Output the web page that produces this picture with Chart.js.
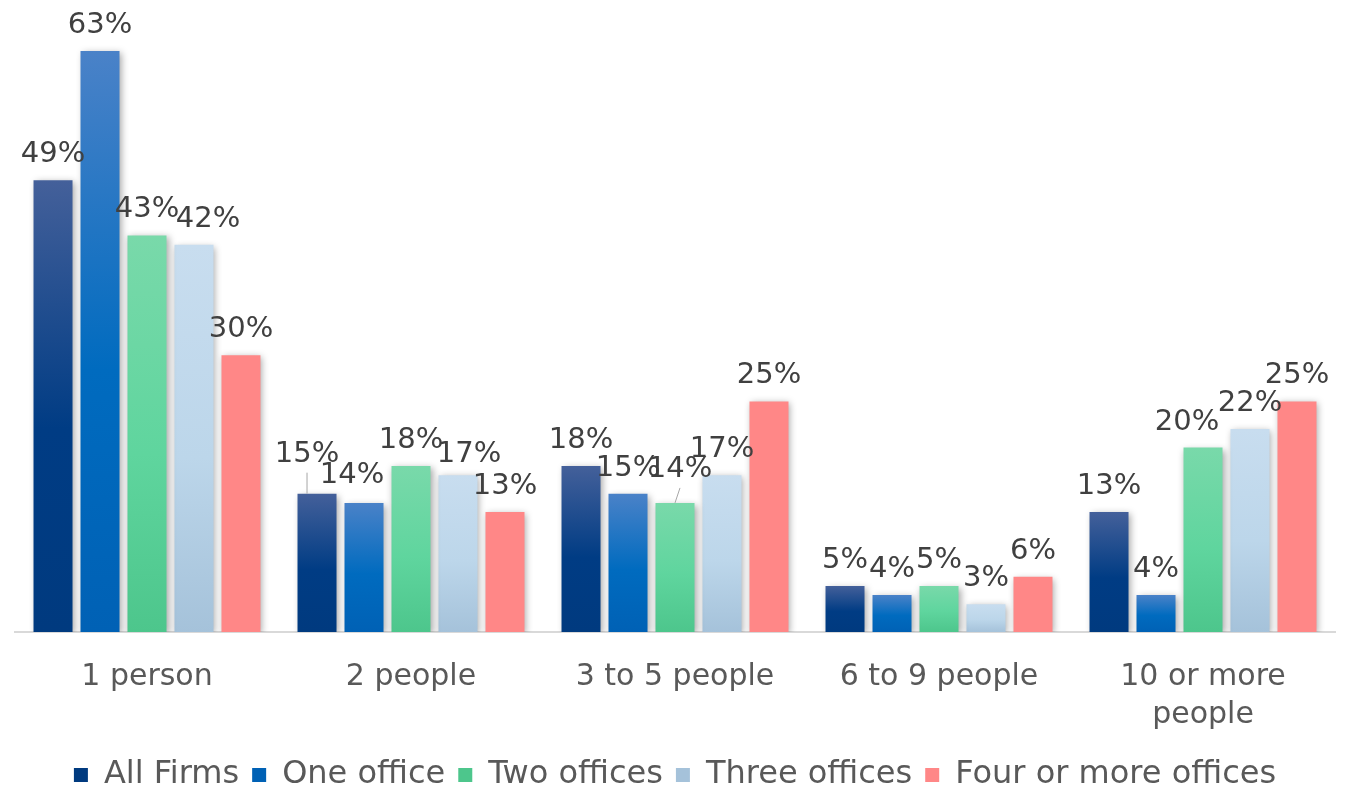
<!DOCTYPE html>
<html>
<head>
<meta charset="utf-8">
<script src="https://cdn.jsdelivr.net/npm/chart.js@4.4.1/dist/chart.umd.min.js"></script>
<style>
  html, body { margin: 0; padding: 0; background: #fff; }
  #wrap { width: 1345px; height: 789px; }
</style>
</head>
<body>
<div id="wrap"><canvas id="sizeChart"></canvas></div>
<script>
// categories and series
const categories = ['1 person', '2 people', '3 to 5 people', '6 to 9 people', ['10 or more', 'people']];
const seriesNames = ['All Firms', 'One office', 'Two offices', 'Three offices', 'Four or more offices'];
const allFirms = [49, 15, 18, 5, 13];
const oneOffice = [63, 14, 15, 4, 4];
const twoOffices = [43, 18, 14, 5, 20];
const threeOffices = [42, 17, 17, 3, 22];
const fourOffices = [30, 13, 25, 6, 25];

// top, middle, bottom colours of each bar's gradient
const gradStops = [
    ['#44609a', '#003c84', '#003a7f'],
    ['#4a82c8', '#006bbf', '#0061b5'],
    ['#79d9aa', '#5fd59e', '#4dc68c'],
    ['#c8ddef', '#bcd6ea', '#a5c2da'],
    ['#ff8787', '#ff8787', '#ff8787']
];

// nudges for a few labels that sit off-centre in the original: [dataset, index, dx, dy, leader]
const labelNudges = [
    [3, 0, 14, 0, false],
    [0, 1, -10, -14, true],
    [1, 1, -12, -2, false],
    [3, 1, 11, 5, false],
    [2, 2, 5, -8, true],
    [2, 4, -16, 0, false]
];

const FONT = "'DejaVu Sans', sans-serif";

function barGradient(stops) {
    return function (context) {
        const chart = context.chart;
        const { ctx, chartArea, scales } = chart;
        if (!chartArea || context.type !== 'data') return stops[2];
        const y0 = scales.y.getPixelForValue(0);
        const y1 = scales.y.getPixelForValue(context.raw);
        const g = ctx.createLinearGradient(0, y1, 0, y0);
        g.addColorStop(0, stops[0]);
        g.addColorStop(0.55, stops[1]);
        g.addColorStop(1, stops[2]);
        return g;
    };
}

// shadow under the bars + value labels above them
const barDecor = {
    id: 'barDecor',
    beforeDatasetsDraw(chart) {
        const ctx = chart.ctx;
        ctx.save();
        ctx.shadowColor = 'rgba(0,0,0,0.35)';
        ctx.shadowBlur = 7;
        ctx.shadowOffsetX = 2;
        ctx.shadowOffsetY = 2;
    },
    afterDatasetsDraw(chart) {
        const ctx = chart.ctx;
        ctx.restore();
        ctx.save();
        ctx.font = '29px ' + FONT;
        ctx.fillStyle = '#404040';
        ctx.textAlign = 'center';
        ctx.textBaseline = 'alphabetic';
        chart.data.datasets.forEach((ds, di) => {
            const meta = chart.getDatasetMeta(di);
            meta.data.forEach((bar, i) => {
                let dx = 0, dy = 0, leader = false;
                labelNudges.forEach(n => {
                    if (n[0] === di && n[1] === i) { dx = n[2]; dy = n[3]; leader = n[4]; }
                });
                const lx = bar.x + dx;
                const ly = bar.y - 18 + dy;
                ctx.fillText(ds.data[i] + '%', lx, ly);
                if (leader) {
                    ctx.strokeStyle = '#a6a6a6';
                    ctx.lineWidth = 1;
                    ctx.beginPath();
                    ctx.moveTo(lx, ly + 11);
                    ctx.lineTo(lx - (dx > 0 ? dx : 0), bar.y);
                    ctx.stroke();
                }
            });
        });
        ctx.restore();
    }
};

const seriesValues = [allFirms, oneOffice, twoOffices, threeOffices, fourOffices];

new Chart(document.getElementById('sizeChart'), {
    type: 'bar',
    data: {
        labels: categories,
        datasets: seriesNames.map((name, k) => ({
            label: name,
            data: seriesValues[k],
            backgroundColor: barGradient(gradStops[k]),
            borderWidth: 0,
            categoryPercentage: 0.89,
            barPercentage: 0.83
        }))
    },
    options: {
        responsive: true,
        maintainAspectRatio: false,
        animation: false,
        events: [],
        layout: { padding: { left: 15, right: 10, top: 10, bottom: 0 } },
        scales: {
            x: {
                grid: { display: false },
                border: { display: true, color: '#d9d9d9', width: 2 },
                ticks: {
                    color: '#595959',
                    font: { family: FONT, size: 30, lineHeight: 1.27 },
                    padding: 18,
                    maxRotation: 0,
                    autoSkip: false
                },
                afterFit(scale) { scale.height = 114; }
            },
            y: {
                display: false,
                min: 0,
                max: 67.45
            }
        },
        plugins: {
            legend: {
                position: 'bottom',
                maxHeight: 43,
                labels: {
                    color: '#595959',
                    font: { family: FONT, size: 32 },
                    boxWidth: 14,
                    boxHeight: 14,
                    padding: 13
                }
            },
            tooltip: { enabled: false }
        }
    },
    plugins: [barDecor]
});
</script>
</body>
</html>
